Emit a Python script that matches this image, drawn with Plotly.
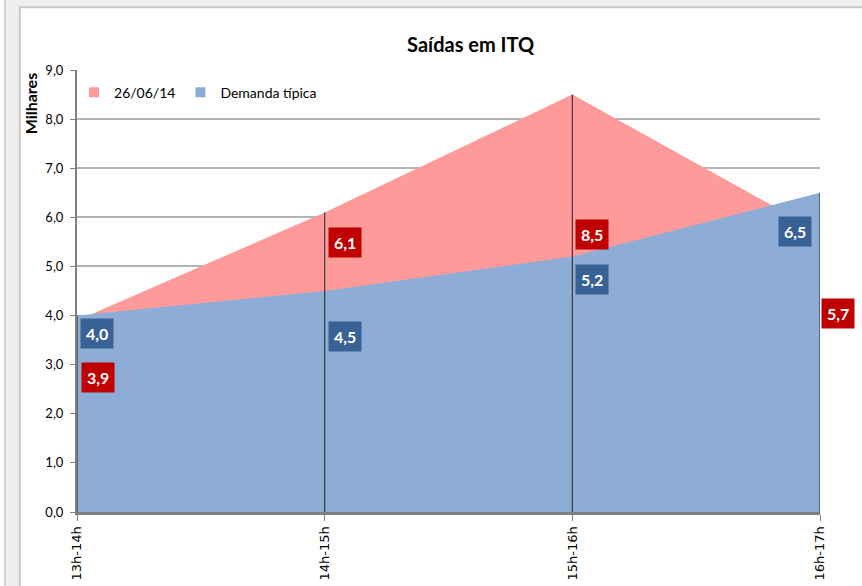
import plotly.graph_objects as go

categories = ["13h-14h", "14h-15h", "15h-16h", "16h-17h"]
dia_values = [3.9, 6.1, 8.5, 5.7]        # 26/06/14
tipica_values = [4.0, 4.5, 5.2, 6.5]     # Demanda típica
series_names = ["26/06/14", "Demanda típica"]

RED_FILL = "#FF9A9A"
BLUE_FILL = "#8DACD6"
RED_LABEL = "#C00000"
BLUE_LABEL = "#386295"
FONT = "Lato, 'Open Sans', sans-serif"

# label offsets in px (style only), one per point
dia_shift = [(21, -57), (20, -30), (20, -140), (18, -81)]
tip_shift = [(20, -18), (20, -45), (20, -23), (-25, -39)]

fig = go.Figure()

fig.add_trace(go.Scatter(x=categories, y=dia_values, mode="lines", fill="tozeroy",
                         fillcolor=RED_FILL, line=dict(width=0, color=RED_FILL),
                         showlegend=False, hoverinfo="skip"))
fig.add_trace(go.Scatter(x=categories, y=tipica_values, mode="lines", fill="tozeroy",
                         fillcolor=BLUE_FILL, line=dict(width=0, color=BLUE_FILL),
                         showlegend=False, hoverinfo="skip"))

# drop lines
for c, a, b in zip(categories, dia_values, tipica_values):
    fig.add_trace(go.Scatter(x=[c, c], y=[0, max(a, b)], mode="lines",
                             line=dict(color="#3a3a3a", width=1.2),
                             showlegend=False, hoverinfo="skip"))

# legend entries
for name, col in zip(series_names, [RED_FILL, BLUE_FILL]):
    fig.add_trace(go.Scatter(x=[None], y=[None], mode="markers", name=name,
                             marker=dict(symbol="square", size=10, color=col)))

annotations = []
for c, v, (dx, dy) in zip(categories, dia_values, dia_shift):
    annotations.append(dict(x=c, y=v, xref="x", yref="y", text="<b>%s</b>" % f"{v:.1f}".replace(".", ","),
                            showarrow=False, xshift=dx, yshift=dy, bgcolor=RED_LABEL,
                            font=dict(color="white", size=16, family=FONT), borderpad=5))
for c, v, (dx, dy) in zip(categories, tipica_values, tip_shift):
    annotations.append(dict(x=c, y=v, xref="x", yref="y", text="<b>%s</b>" % f"{v:.1f}".replace(".", ","),
                            showarrow=False, xshift=dx, yshift=dy, bgcolor=BLUE_LABEL,
                            font=dict(color="white", size=16, family=FONT), borderpad=5))
annotations.append(dict(x=-0.063, y=0.925, xref="paper", yref="paper", text="<b>Milhares</b>",
                        textangle=-90, showarrow=False, xanchor="center", yanchor="middle",
                        font=dict(size=16, color="black", family=FONT)))

shapes = [
    dict(type="rect", xref="paper", yref="paper", x0=-0.077, x1=1.2, y0=-0.3, y1=1.142,
         fillcolor="white", line=dict(color="#c8c8c8", width=2), layer="below"),
    dict(type="rect", xref="paper", yref="paper", x0=-0.2, x1=-0.097, y0=-0.3, y1=1.3,
         fillcolor="white", line=dict(color="#c8c8c8", width=1.5), layer="below"),
]

fig.update_layout(
    width=862, height=586,
    margin=dict(l=77, r=42, t=70, b=74),
    paper_bgcolor="#efefef",
    plot_bgcolor="rgba(0,0,0,0)",
    font=dict(family=FONT, color="#222"),
    title=dict(text="<b>Saídas em ITQ</b>", x=0.546, xref="container", xanchor="center",
               y=0.923, yref="container", yanchor="middle",
               font=dict(size=20, color="black", family=FONT)),
    separators=",.",
    showlegend=True,
    legend=dict(orientation="h", x=-0.004, y=0.985, xanchor="left", yanchor="top",
                bgcolor="rgba(0,0,0,0)", font=dict(size=14, color="black", family=FONT),
                itemwidth=30, tracegroupgap=0),
    annotations=annotations,
    shapes=shapes,
)

fig.update_xaxes(type="category", range=[0, 3], showgrid=False, showline=True,
                 linecolor="#7f7f7f", linewidth=3, ticks="outside", ticklen=6,
                 tickcolor="#7f7f7f", tickangle=-90, automargin=False,
                 tickfont=dict(family="DejaVu Sans", size=13, color="black"))
fig.update_yaxes(range=[0, 9], dtick=1, tickformat=".1f", showgrid=True,
                 gridcolor="#b5b5b5", gridwidth=2, showline=True, linecolor="#7f7f7f",
                 linewidth=2, ticks="outside", ticklen=5, tickcolor="#7f7f7f",
                 zeroline=False, automargin=False, ticklabelstandoff=4,
                 tickfont=dict(size=13, color="black", family=FONT))

fig.write_html("out.html", config={"displayModeBar": False},
               post_script="document.body.style.margin='0';")
